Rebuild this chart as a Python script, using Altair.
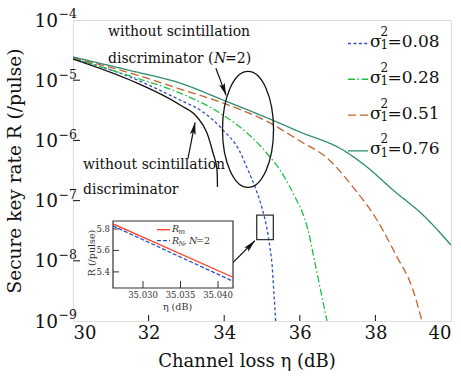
import altair as alt
import pandas as pd
import math

FONT = "DejaVu Serif"

# ---------------- data ----------------
series = ["0.08", "0.28", "0.51", "0.76"]

eta_008 = [30.0, 31.508, 32.831, 33.360, 33.968, 34.392, 34.630, 34.815, 35.0, 35.132, 35.212, 35.265, 35.317, 35.362]
R_008 = [2.29e-5, 1.13e-5, 4.69e-6, 3.20e-6, 1.49e-6, 6.93e-7, 3.22e-7, 1.68e-7, 7.53e-8, 3.37e-8, 1.63e-8, 8.85e-9, 2.81e-9, 1.0e-9]

eta_028 = [30.0, 31.508, 32.831, 33.968, 34.603, 35.212, 35.476, 35.926, 36.085, 36.217, 36.402, 36.587, 36.720]
R_028 = [2.34e-5, 1.175e-5, 6.12e-6, 2.64e-6, 1.33e-6, 5.30e-7, 3.22e-7, 9.84e-8, 5.98e-8, 3.25e-8, 9.18e-9, 2.51e-9, 1.0e-9]

eta_051 = [30.0, 31.508, 32.831, 33.968, 35.212, 36.005, 36.720, 37.407, 38.042, 38.571, 38.968, 39.233]
R_051 = [2.38e-5, 1.32e-5, 7.14e-6, 4.18e-6, 1.95e-6, 9.77e-7, 5.11e-7, 1.68e-7, 4.76e-8, 1.16e-8, 3.67e-9, 1.0e-9]

eta_076 = [30.0, 31.508, 32.831, 33.968, 35.212, 36.005, 37.143, 37.778, 38.466, 39.259, 40.0]
R_076 = [2.43e-5, 1.45e-5, 8.97e-6, 4.69e-6, 2.26e-6, 1.38e-6, 6.93e-7, 3.61e-7, 1.50e-7, 5.77e-8, 1.83e-8]

eta_nodisc = [30.0, 31.508, 32.831, 33.280, 33.545, 33.704, 33.810, 33.823]
R_nodisc = [2.25e-5, 1.007e-5, 3.87e-6, 2.45e-6, 1.33e-6, 6.18e-7, 3.22e-7, 1.68e-7]

x_ticks = [30, 32, 34, 36, 38, 40]
y_ticks = [1e-4, 1e-5, 1e-6, 1e-7, 1e-8, 1e-9]

# inset (zoom near eta = 35.03 dB)
inset_eta = [35.026, 35.042]
inset_Rm = [5.847, 5.350]
inset_RN = [5.828, 5.313]
inset_x_ticks = [35.030, 35.035, 35.040]
inset_y_ticks = [5.4, 5.6, 5.8]

# annotation geometry (data coordinates)
zoom_box = {"eta": [34.86], "eta2": [35.30], "R": [5.75e-8], "R2": [2.24e-8]}
ellipse_center = {"eta": [34.63], "R": [1.52e-6]}
arrows = {
    "eta": [33.04, 33.78, 34.23],
    "R": [5.0e-7, 1.58e-5, 9.3e-9],
    "eta2": [33.23, 34.05, 34.81],
    "R2": [2.0e-6, 5.6e-6, 2.15e-8],
    "ang": [11, 160, 44],
}

# ---------------- styles ----------------
colors = ["#2f52c2", "#1fbf45", "#c6622e", "#2e8b6f"]
dashes = [[3, 2.4], [7, 2.5, 1.6, 2.5], [8, 4], [1, 0]]

# ---------------- main chart ----------------
xs = alt.Scale(domain=[30, 40], nice=False, zero=False)
ys = alt.Scale(type="log", domain=[1e-9, 1e-4], nice=False)
x_axis = alt.Axis(values=x_ticks, format="d", labelFont=FONT, labelFontSize=18,
                  labelColor="#111", ticks=False, domain=False, grid=False,
                  title=None, labelPadding=3)

def X(field="eta"):
    return alt.X(f"{field}:Q", scale=xs, axis=x_axis)

def Y(field="R"):
    return alt.Y(f"{field}:Q", scale=ys, axis=None)

rows = []
for name, e, r in zip(series, [eta_008, eta_028, eta_051, eta_076], [R_008, R_028, R_051, R_076]):
    for a, b in zip(e, r):
        rows.append({"eta": a, "R": b, "series": name})
curves_df = pd.DataFrame(rows)

curves = alt.Chart(curves_df).mark_line(clip=True, strokeWidth=1.3, interpolate="monotone").encode(
    x=X(), y=Y(),
    color=alt.Color("series:N", scale=alt.Scale(domain=series, range=colors), legend=None),
    strokeDash=alt.StrokeDash("series:N", scale=alt.Scale(domain=series, range=dashes), legend=None),
    detail="series:N",
)

black = alt.Chart(pd.DataFrame({"eta": eta_nodisc, "R": R_nodisc})).mark_line(
    clip=True, strokeWidth=1.3, color="#111", interpolate="monotone").encode(x=X(), y=Y())

ELLIPSE = ("M0.44,0 C0.44,0.552 0.243,1 0,1 C-0.243,1 -0.44,0.552 -0.44,0 "
           "C-0.44,-0.552 -0.243,-1 0,-1 C0.243,-1 0.44,-0.552 0.44,0 Z")
ellipse = alt.Chart(pd.DataFrame(ellipse_center)).mark_point(
    shape=ELLIPSE, size=13456, filled=False, stroke="#111", strokeWidth=1.3, opacity=1
).encode(x=X(), y=Y())

arrows_df = pd.DataFrame(arrows)
shafts = alt.Chart(arrows_df).mark_rule(color="#111", strokeWidth=1.2).encode(
    x=X(), y=Y(), x2="eta2:Q", y2="R2:Q")
ARROW = "M0,0 L0.45,1.9 L0,1.5 L-0.45,1.9 Z"
heads = alt.Chart(arrows_df).mark_point(shape=ARROW, size=170, filled=True, color="#111", opacity=1).encode(
    x=X("eta2"), y=Y("R2"), angle=alt.Angle("ang:Q", scale=None))

box = alt.Chart(pd.DataFrame(zoom_box)).mark_rect(fillOpacity=0, stroke="#333", strokeWidth=1.3).encode(
    x=X(), x2="eta2:Q", y=Y(), y2="R2:Q")

xt = alt.Chart(pd.DataFrame({"eta": x_ticks[1:-1]})).mark_rule(color="#222", strokeWidth=1.1).encode(
    x=X(), y=alt.value(301), y2=alt.value(295))
yt = alt.Chart(pd.DataFrame({"R": y_ticks[1:-1]})).mark_rule(color="#222", strokeWidth=1.1).encode(
    y=Y(), x=alt.value(0), x2=alt.value(7))

ylab_df = pd.DataFrame({"R": y_ticks, "exp": ["\u2212" + str(round(-math.log10(v))) for v in y_ticks]})
ylab10 = alt.Chart(ylab_df).mark_text(text="10", align="right", baseline="alphabetic", dy=6.5,
                                      font=FONT, fontSize=18.5, color="#111").encode(y=Y(), x=alt.value(-15))
ylabexp = alt.Chart(ylab_df).mark_text(align="left", baseline="alphabetic", dy=-1.7,
                                       font=FONT, fontSize=12.5, color="#111").encode(
    y=Y(), x=alt.value(-14.5), text="exp:N")

one = pd.DataFrame({"k": [0]})

def txt(s, x, y, size=14, align="left", angle=0, style="normal", baseline="alphabetic", color="#111"):
    return alt.Chart(one).mark_text(text=s, align=align, baseline=baseline, font=FONT, fontSize=size,
                                    fontStyle=style, angle=angle, color=color).encode(
        x=alt.value(x), y=alt.value(y))

annot = [
    txt("without scintillation", 35, 16),
    txt("discriminator (", 35, 43),
    txt("N", 141, 43, style="italic"),
    txt("=2)", 152, 43),
    txt("without scintillation", 10, 149),
    txt("discriminator", 10, 173.5),
    txt("Channel loss \u03b7 (dB)", 174, 347, size=18, align="center"),
    txt("Secure key rate R (/pulse)", -58, 151, size=18.5, align="center", angle=270, baseline="middle"),
]

legend = []
for i, (name, col, dsh) in enumerate(zip(series, colors, dashes)):
    base = 27 + 35.8 * i
    legend.append(alt.Chart(one).mark_rule(color=col, strokeDash=dsh, strokeWidth=1.4).encode(
        x=alt.value(275), x2=alt.value(295), y=alt.value(base - 3.5)))
    legend.append(txt("\u03c3", 297, base, size=17))
    legend.append(txt("2", 307.5, base - 11, size=12))
    legend.append(txt("1", 307.5, base + 2.3, size=12))
    legend.append(txt("=" + name, 314.5, base, size=17))

main = alt.layer(curves, black, ellipse, shafts, heads, box, xt, yt, ylab10, ylabexp, *annot, *legend)

# ---------------- inset ----------------
xin = alt.Scale(domain=[35.026, 35.042], range=[40, 160], nice=False, zero=False)
yin = alt.Scale(domain=[5.25, 5.874], range=[268, 201], nice=False, zero=False)

def XI(field="eta"):
    return alt.X(f"{field}:Q", scale=xin, axis=None)

def YI(field="R"):
    return alt.Y(f"{field}:Q", scale=yin, axis=None)

frame = alt.Chart(pd.DataFrame({"eta": [inset_eta[0]], "eta2": [inset_eta[1]], "R": [5.25], "R2": [5.874]})).mark_rect(
    fill="white", stroke="#333", strokeWidth=1.2).encode(x=XI(), x2="eta2:Q", y=YI(), y2="R2:Q")
red = alt.Chart(pd.DataFrame({"eta": inset_eta, "R": inset_Rm})).mark_line(
    color="#ff3b22", strokeWidth=1.3, clip=True).encode(x=XI(), y=YI())
blue = alt.Chart(pd.DataFrame({"eta": inset_eta, "R": inset_RN})).mark_line(
    color="#2f52c2", strokeWidth=1.3, strokeDash=[4, 2], clip=True).encode(x=XI(), y=YI())
ixt = alt.Chart(pd.DataFrame({"eta": inset_x_ticks})).mark_rule(color="#333").encode(
    x=XI(), y=alt.value(268), y2=alt.value(261))
iyt = alt.Chart(pd.DataFrame({"R": inset_y_ticks})).mark_rule(color="#333").encode(
    y=YI(), x=alt.value(40), x2=alt.value(46))
ixl = alt.Chart(pd.DataFrame({"eta": inset_x_ticks})).mark_text(
    font=FONT, fontSize=8.5, color="#333", baseline="alphabetic").encode(
    x=XI(), y=alt.value(278), text=alt.Text("eta:Q", format=".3f"))
iyl = alt.Chart(pd.DataFrame({"R": inset_y_ticks})).mark_text(
    font=FONT, fontSize=8.5, color="#333", align="right", baseline="middle").encode(
    y=YI(), x=alt.value(37), text=alt.Text("R:Q", format=".1f"))

inset_txt = [
    alt.Chart(one).mark_rule(color="#ff3b22", strokeWidth=1.3).encode(
        x=alt.value(84), x2=alt.value(97), y=alt.value(209.7)),
    txt("R", 99, 212, size=9.5, style="italic", color="#333"),
    txt("m", 105.5, 214, size=7, style="italic", color="#333"),
    alt.Chart(one).mark_rule(color="#2f52c2", strokeWidth=1.3, strokeDash=[4, 2]).encode(
        x=alt.value(84), x2=alt.value(97), y=alt.value(220.7)),
    txt("R", 99, 224, size=9.5, style="italic", color="#333"),
    txt("N", 105.5, 226, size=7, style="italic", color="#333"),
    txt(", ", 110.5, 224, size=9.5, color="#333"),
    txt("N", 116, 224, size=9.5, style="italic", color="#333"),
    txt("=2", 123, 224, size=9.5, color="#333"),
    txt("R (/pulse)", 19, 233, size=9.5, align="center", angle=270, baseline="middle", color="#333"),
    txt("\u03b7 (dB)", 104.5, 290, size=9.5, align="center", color="#333"),
]

inset = alt.layer(frame, red, blue, ixt, iyt, ixl, iyl, *inset_txt)

chart = alt.layer(main, inset).resolve_scale(x="independent", y="independent").properties(
    width=378, height=301,
    autosize=alt.AutoSizeParams(type="none"),
    padding={"left": 73, "top": 20, "right": 10, "bottom": 56},
).configure_view(stroke="#222", strokeWidth=1.3).configure(background="white")

chart.save("out.html", embed_options={"renderer": "svg", "actions": False})
